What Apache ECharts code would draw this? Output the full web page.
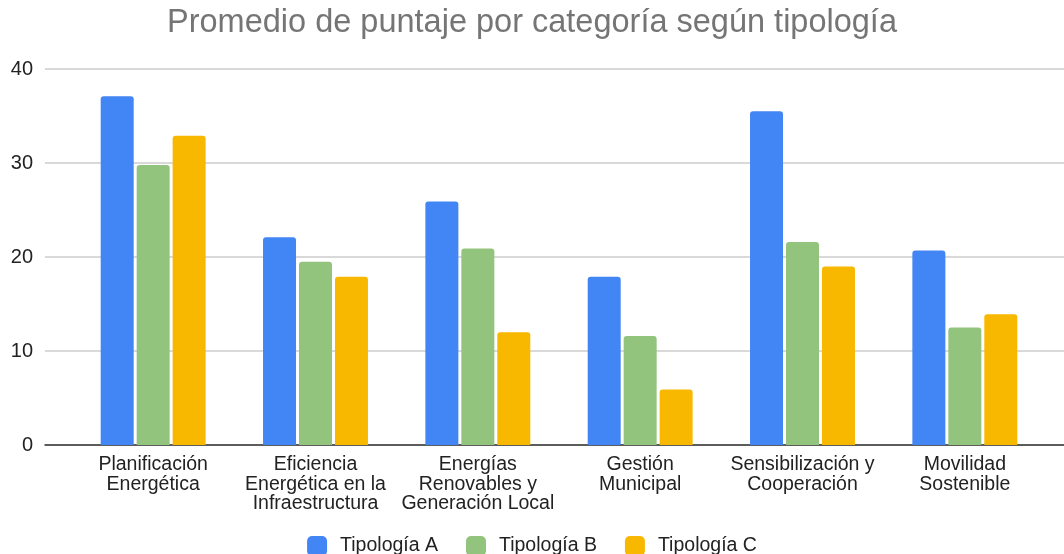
<!DOCTYPE html>
<html>
<head>
<meta charset="utf-8">
<script src="https://cdn.jsdelivr.net/npm/echarts@6/dist/echarts.min.js"></script>
<style>
  html, body { margin: 0; padding: 0; background: #fff; }
  #chart { width: 1064px; height: 554px; }
</style>
</head>
<body>
<div id="chart"></div>
<script>
// categories and series values
const categories = [
  'Planificación\nEnergética',
  'Eficiencia\nEnergética en la\nInfraestructura',
  'Energías\nRenovables y\nGeneración Local',
  'Gestión\nMunicipal',
  'Sensibilización y\nCooperación',
  'Movilidad\nSostenible'
]
const seriesNames = ['Tipología A', 'Tipología B', 'Tipología C']
const tipologiaA = [37.1, 22.1, 25.9, 17.9, 35.5, 20.7]
const tipologiaB = [29.8, 19.5, 20.9, 11.6, 21.6, 12.5]
const tipologiaC = [32.9, 17.9, 12.0, 5.9, 19.0, 13.9]
const colors = ['#4285f4', '#93c47d', '#f9b800']

const chart = echarts.init(document.getElementById('chart'))
const font = 'Liberation Sans, Arial, sans-serif'

const barSeries = [tipologiaA, tipologiaB, tipologiaC].map((data, i) => ({
  name: seriesNames[i],
  type: 'bar',
  xAxisIndex: 1,
  yAxisIndex: 1,
  barWidth: 33,
  barGap: '9%',
  itemStyle: {
    color: colors[i],
    borderRadius: [3, 3, 0, 0]
  },
  data: data
}))

chart.setOption({
  backgroundColor: '#fff',
  animation: false,
  title: {
    text: 'Promedio de puntaje por categoría según tipología',
    left: 'center',
    top: 2,
    textStyle: {
      color: '#757575',
      fontFamily: font,
      fontSize: 32.5,
      fontWeight: 'normal'
    }
  },
  legend: {
    top: 531,
    left: 'center',
    itemWidth: 20,
    itemHeight: 20,
    itemGap: 28,
    icon: 'roundRect',
    textStyle: {
      color: '#222',
      fontFamily: font,
      fontSize: 19.5,
      padding: [0, 0, 0, 8]
    },
    data: seriesNames
  },
  grid: [
    // outer grid: gridlines, y labels and base line across the full width
    { left: 45, right: 0, top: 69, height: 376 },
    // inner grid: the bars
    { left: 72, right: 18, top: 69, height: 376 }
  ],
  xAxis: [{
    type: 'category',
    gridIndex: 0,
    data: [''],
    axisLine: { lineStyle: { color: '#333', width: 1.5 } },
    axisTick: { show: false },
    axisLabel: { show: false }
  }, {
    type: 'category',
    gridIndex: 1,
    data: categories,
    axisLine: { show: false },
    axisTick: { show: false },
    axisLabel: {
      interval: 0,
      margin: 10,
      color: '#222',
      fontFamily: font,
      fontSize: 19.5,
      lineHeight: 19.5
    }
  }],
  yAxis: [{
    type: 'value',
    gridIndex: 0,
    min: 0,
    max: 40,
    interval: 10,
    axisLine: { show: false },
    axisTick: { show: false },
    axisLabel: {
      margin: 12,
      color: '#222',
      fontFamily: font,
      fontSize: 20
    },
    splitLine: { lineStyle: { color: '#cccccc', width: 1.5 } }
  }, {
    type: 'value',
    gridIndex: 1,
    min: 0,
    max: 40,
    interval: 10,
    show: false,
    splitLine: { show: false }
  }],
  series: barSeries
})
</script>
</body>
</html>
